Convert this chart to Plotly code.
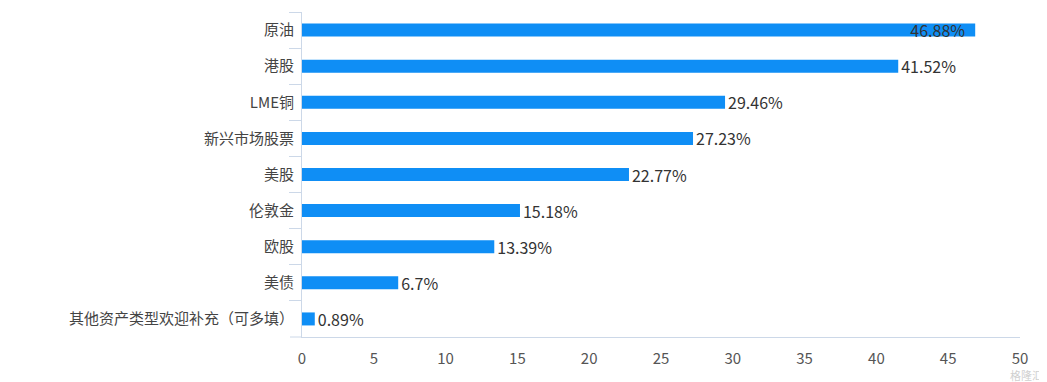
import plotly.graph_objects as go

categories = ["原油", "港股", "LME铜", "新兴市场股票", "美股", "伦敦金", "欧股", "美债", "其他资产类型欢迎补充（可多填）"]
values = [46.88, 41.52, 29.46, 27.23, 22.77, 15.18, 13.39, 6.7, 0.89]
labels = ["46.88%", "41.52%", "29.46%", "27.23%", "22.77%", "15.18%", "13.39%", "6.7%", "0.89%"]
x_ticks = [0, 5, 10, 15, 20, 25, 30, 35, 40, 45, 50]

FONT = "Noto Sans CJK SC, Microsoft YaHei, sans-serif"
axis_col = "#ccd8e8"

positions = ["inside" if i == 0 else "outside" for i in range(len(values))]

fig = go.Figure(go.Bar(
    y=categories,
    x=values,
    orientation="h",
    marker=dict(color="#0f8ef5", line=dict(width=0)),
    text=[t + "  " if p == "inside" else t for t, p in zip(labels, positions)],
    textposition=positions,
    insidetextanchor="end",
    textfont=dict(family=FONT, size=16, color="#333333"),
    insidetextfont=dict(family=FONT, size=16, color="#333333"),
    outsidetextfont=dict(family=FONT, size=16, color="#333333"),
    cliponaxis=False,
    constraintext="none",
    hoverinfo="x+y",
))

fig.update_layout(
    width=1039,
    height=374,
    margin=dict(l=294, r=27, t=4, b=45),
    plot_bgcolor="white",
    paper_bgcolor="white",
    bargap=0.64,
    showlegend=False,
    font=dict(family=FONT, size=15, color="#555555"),
    xaxis=dict(
        range=[0, 50],
        tickvals=x_ticks,
        ticktext=[str(v) for v in x_ticks],
        showgrid=False,
        zeroline=False,
        showline=True,
        linecolor=axis_col,
        linewidth=1,
        ticks="",
        tickfont=dict(family=FONT, size=15, color="#555555"),
        ticklabelstandoff=8,
    ),
    yaxis=dict(
        autorange="reversed",
        showgrid=False,
        zeroline=False,
        showline=True,
        linecolor=axis_col,
        linewidth=1,
        ticks="outside",
        tickson="boundaries",
        ticklen=12,
        tickcolor=axis_col,
        tickfont=dict(family=FONT, size=15, color="#444444"),
        ticklabelstandoff=4,
    ),
)

# extend x-axis line to the left under the category ticks
fig.add_shape(
    type="line", xref="paper", yref="paper",
    xsizemode="pixel", xanchor=0, x0=-12, x1=0, y0=0, y1=0,
    line=dict(color=axis_col, width=1),
)

fig.add_annotation(
    x=1.0, y=0, xref="paper", yref="paper",
    xanchor="right", yanchor="top", yshift=-28, xshift=25,
    text="格隆汇", showarrow=False,
    font=dict(family=FONT, size=11, color="#d0d0d0"),
)

fig.write_html("out.html")
